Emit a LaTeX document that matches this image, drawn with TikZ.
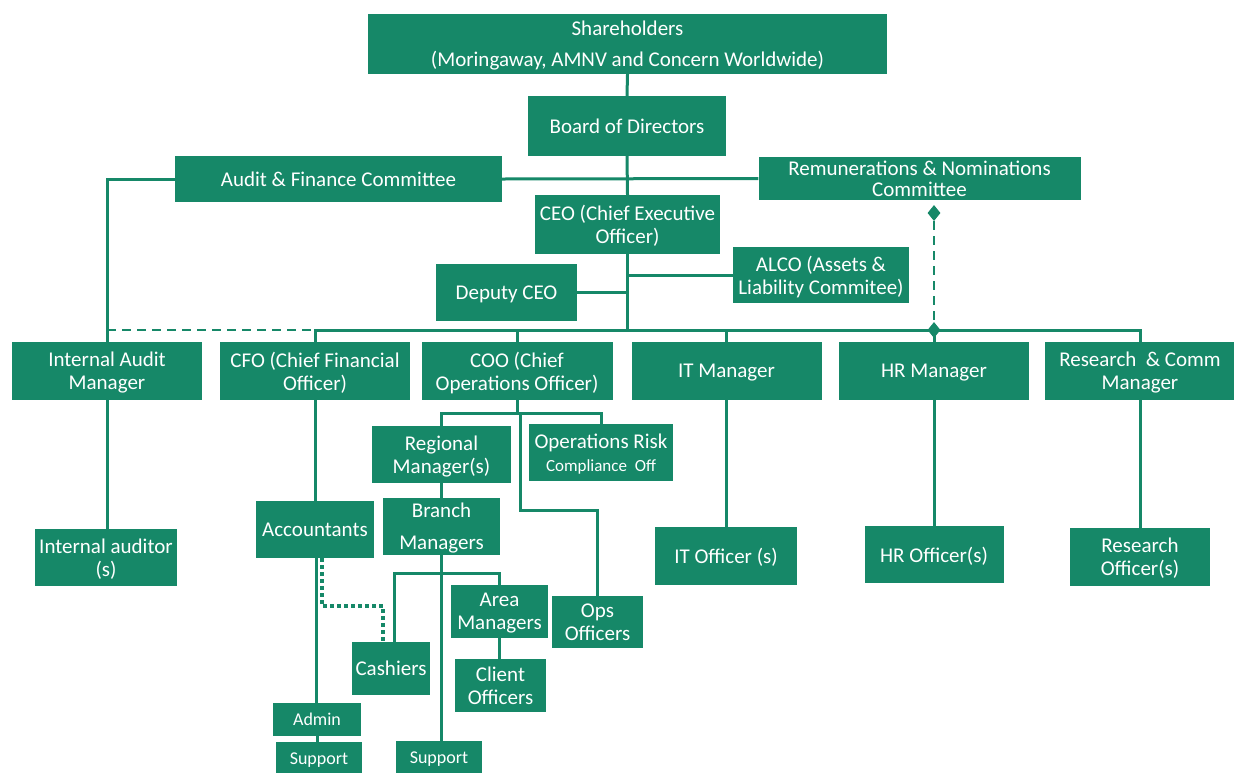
\documentclass[tikz,border=0pt]{standalone}
\usepackage{fontspec}
\setmainfont{Carlito}
\usetikzlibrary{shapes.geometric}
\definecolor{og}{RGB}{22,136,104}
\begin{document}
\begin{tikzpicture}[x=1pt,y=-1pt,
  box/.style={fill=og,text=white,inner sep=0pt,align=center,text depth=0pt,font=\fontsize{21}{23}\selectfont},
  small/.style={font=\fontsize{18}{20}\selectfont},
  link/.style={draw=og,line width=3pt},
  dashlink/.style={draw=og,line width=2.5pt,dash pattern=on 9pt off 6pt},
  dotlink/.style={draw=og,line width=3.5pt,dash pattern=on 3.5pt off 3.5pt},
  dia/.style={diamond,fill=og,inner sep=0pt,minimum width=13pt,minimum height=16pt}
]
\useasboundingbox (0,0) rectangle (1234,772);

% top
\node[box,minimum width=519pt,minimum height=60pt,font=\fontsize{21}{31}\selectfont] (sh) at (627.5,44) {Shareholders\\(Moringaway, AMNV and Concern Worldwide)};
\node[box,minimum width=198pt,minimum height=60pt] (bod) at (627,126) {Board of Directors};
\node[box,minimum width=327pt,minimum height=46pt] (afc) at (338.5,179) {Audit \& Finance Committee};
\node[box,minimum width=322pt,minimum height=43pt,font=\fontsize{21}{21}\selectfont] (rnc) at (919.5,178.5) {Remunerations \& Nominations\\Committee};
\node[box,minimum width=185pt,minimum height=59pt] (ceo) at (627.5,224.5) {CEO (Chief Executive\\Officer)};
\node[box,minimum width=176pt,minimum height=56pt] (alco) at (821,275) {ALCO (Assets \&\\Liability Commitee)};
\node[box,minimum width=141pt,minimum height=57pt] (dep) at (506.5,292.5) {Deputy CEO};

% managers row
\node[box,minimum width=190pt,minimum height=58pt] (iam) at (107,371) {Internal Audit\\Manager};
\node[box,minimum width=190pt,minimum height=58pt] (cfo) at (315,371) {CFO (Chief Financial\\Officer)};
\node[box,minimum width=191pt,minimum height=58pt] (coo) at (517,371) {COO (Chief\\Operations Officer)};
\node[box,minimum width=190pt,minimum height=58pt] (itm) at (726.5,371) {IT Manager};
\node[box,minimum width=190pt,minimum height=58pt] (hrm) at (934,371) {HR Manager};
\node[box,minimum width=190pt,minimum height=58pt] (rcm) at (1140,371) {Research\ \ \& Comm\\Manager};

% second level
\node[box,minimum width=139pt,minimum height=57pt] (reg) at (441.5,454.5) {Regional\\Manager(s)};
\node[box,minimum width=144pt,minimum height=57pt] (orc) at (601,452.5) {Operations Risk\\{\fontsize{17}{19}\selectfont Compliance\ \ Off}};
\node[box,minimum width=118pt,minimum height=57pt] (acc) at (315,529.5) {Accountants};
\node[box,minimum width=117pt,minimum height=57pt,font=\fontsize{21}{32}\selectfont] (bra) at (441.5,526.5) {Branch\\Managers};
\node[box,minimum width=142pt,minimum height=57pt] (ia) at (106,557.5) {Internal auditor\\(s)};
\node[box,minimum width=142pt,minimum height=58pt] (ito) at (726,556) {IT Officer (s)};
\node[box,minimum width=139pt,minimum height=57pt] (hro) at (934,554.5) {HR Officer(s)};
\node[box,minimum width=140pt,minimum height=58pt] (ro) at (1140,557) {Research\\Officer(s)};

% lower branch
\node[box,minimum width=97pt,minimum height=53pt] (area) at (499.5,611.5) {Area\\Managers};
\node[box,minimum width=91pt,minimum height=52pt] (opso) at (597.5,622) {Ops\\Officers};
\node[box,minimum width=78pt,minimum height=53pt] (cash) at (391,668.5) {Cashiers};
\node[box,minimum width=91pt,minimum height=53pt] (cli) at (500.5,685.5) {Client\\Officers};
\node[box,small,minimum width=88pt,minimum height=33pt] (adm) at (317,719.5) {Admin};
\node[box,small,minimum width=86pt,minimum height=34pt] (sup1) at (319,759) {Support};
\node[box,small,minimum width=86pt,minimum height=34pt] (sup2) at (439,758) {Support};

% connectors: top
\draw[link] (sh.south) -- (bod.north);
\draw[link] (bod.south) -- (ceo.north);
\draw[link] (afc.east) -- (rnc.west);
\draw[link] (afc.west) -| (iam.north);
\coordinate (busC) at (627.5,330);
\draw[link] (ceo.south) -- (busC);
\draw[link] (alco.west) -- (alco.west -| ceo.south);
\draw[link] (dep.east) -- (dep.east -| ceo.south);
\draw[link] (cfo.north) |- (busC) -| (rcm.north);
\draw[link] (coo.north) -- (coo.north |- busC);
\draw[link] (itm.north) -- (itm.north |- busC);
\draw[link] (hrm.north) -- (hrm.north |- busC);
\draw[dashlink] (iam.north |- busC) -- (cfo.north |- busC);
\node[dia] (d1) at (934,213) {};
\node[dia] (d2) at (934,330) {};
\draw[dashlink] (d1) -- (d2);

% managers to officers
\draw[link] (iam.south) -- (iam.south |- ia.north);
\draw[link] (itm.south) -- (itm.south |- ito.north);
\draw[link] (hrm.south) -- (hro.north);
\draw[link] (rcm.south) -- (ro.north);
\draw[link] (cfo.south) -- (acc.north);
\draw[link] ([xshift=1.5pt]acc.south) -- ([xshift=1.5pt]acc.south |- adm.north);
\draw[link] (adm.south) -- (adm.south |- sup1.north);
\draw[dotlink] ([xshift=7pt]acc.south) |- (383,606) -- ([xshift=-8pt]cash.north);

% COO subtree
\coordinate (cb) at (517,413);
\draw[link] (coo.south) -- (cb);
\draw[link] (reg.north) |- (cb) -| (orc.north);
\coordinate (ob1) at (520,414);
\coordinate (ob2) at (520,510);
\draw[link] (ob1) -- (ob2) -| (opso.north);
\draw[link] (reg.south) -- (bra.north);
\coordinate (bb) at (441.5,573);
\draw[link] ([xshift=3pt]cash.north) |- (bb) -| (area.north);
\draw[link] (bra.south) -- (bra.south |- sup2.north);
\draw[link] (area.south) -- (area.south |- cli.north);
\end{tikzpicture}
\end{document}
